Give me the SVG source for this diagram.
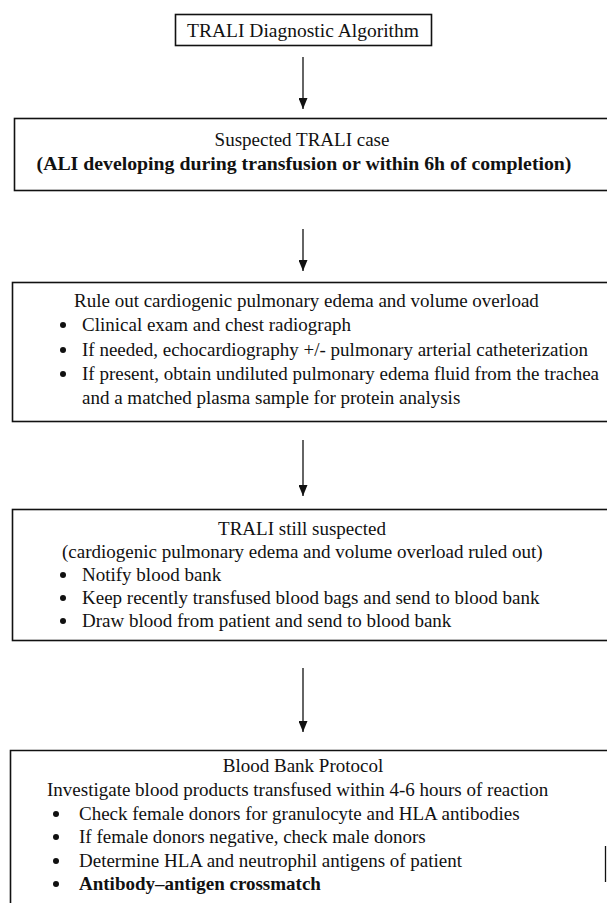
<svg xmlns="http://www.w3.org/2000/svg" width="607" height="903" viewBox="0 0 607 903">
<defs>
<style>
.box{fill:#fff;stroke:#111;stroke-width:1.6}
.t{font-family:"Liberation Serif","Times New Roman",serif;font-size:19px;fill:#111}
.c{text-anchor:middle}
.b{font-weight:bold}
.big{font-size:19.8px}
.title{font-size:19.5px}
.con{stroke:#111;stroke-width:1.3;fill:none}
.dot{fill:#111}
</style>
<marker id="ah" markerWidth="11" markerHeight="9" refX="11" refY="4.5" orient="auto" markerUnits="userSpaceOnUse" viewBox="0 0 11 9">
<path d="M0,0 L11,4.5 L0,9 Z" fill="#111"/>
</marker>
</defs>
<rect width="607" height="903" fill="#fff"/>
<g id="connectors">
<path class="con" d="M303,57 V109" marker-end="url(#ah)"/>
<path class="con" d="M303,229 V271" marker-end="url(#ah)"/>
<path class="con" d="M303,440 V496" marker-end="url(#ah)"/>
<path class="con" d="M303,668 V732" marker-end="url(#ah)"/>
</g>
<g id="title">
<rect class="box" x="175.5" y="14.5" width="256" height="31"/>
<text class="t c title" x="303" y="37">TRALI Diagnostic Algorithm</text>
</g>
<g id="suspected">
<rect class="box" x="14.5" y="118.5" width="600" height="72"/>
<text class="t c" x="302" y="146">Suspected TRALI case</text>
<text class="t c b big" x="304" y="170">(ALI developing during transfusion or within 6h of completion)</text>
</g>
<g id="ruleout">
<rect class="box" x="12.5" y="282.5" width="600" height="139"/>
<text class="t" x="74" y="307">Rule out cardiogenic pulmonary edema and volume overload</text>
<circle class="dot" cx="63" cy="325" r="3"/>
<text class="t" x="82" y="331">Clinical exam and chest radiograph</text>
<circle class="dot" cx="63" cy="350" r="3"/>
<text class="t" x="82" y="356">If needed, echocardiography +/- pulmonary arterial catheterization</text>
<circle class="dot" cx="63" cy="374" r="3"/>
<text class="t" x="82" y="380">If present, obtain undiluted pulmonary edema fluid from the trachea</text>
<text class="t" x="82" y="404">and a matched plasma sample for protein analysis</text>
</g>
<g id="still">
<rect class="box" x="12.5" y="509.5" width="600" height="131"/>
<text class="t c" x="302" y="535">TRALI still suspected</text>
<text class="t" x="62" y="558">(cardiogenic pulmonary edema and volume overload ruled out)</text>
<circle class="dot" cx="63" cy="575" r="3"/>
<text class="t" x="82" y="581">Notify blood bank</text>
<circle class="dot" cx="63" cy="598" r="3"/>
<text class="t" x="82" y="604">Keep recently transfused blood bags and send to blood bank</text>
<circle class="dot" cx="63" cy="621" r="3"/>
<text class="t" x="82" y="627">Draw blood from patient and send to blood bank</text>
</g>
<g id="bloodbank">
<path class="box" d="M612,750.5 H10.5 V905"/>
<path class="con" d="M605.5,846 V882"/>
<text class="t c" x="303" y="772">Blood Bank Protocol</text>
<text class="t" x="47" y="796">Investigate blood products transfused within 4-6 hours of reaction</text>
<circle class="dot" cx="56" cy="814" r="3"/>
<text class="t" x="79" y="820">Check female donors for granulocyte and HLA antibodies</text>
<circle class="dot" cx="56" cy="837" r="3"/>
<text class="t" x="79" y="843">If female donors negative, check male donors</text>
<circle class="dot" cx="56" cy="861" r="3"/>
<text class="t" x="79" y="867">Determine HLA and neutrophil antigens of patient</text>
<circle class="dot" cx="56" cy="884" r="3"/>
<text class="t b" x="79" y="890">Antibody–antigen crossmatch</text>
</g>
</svg>
